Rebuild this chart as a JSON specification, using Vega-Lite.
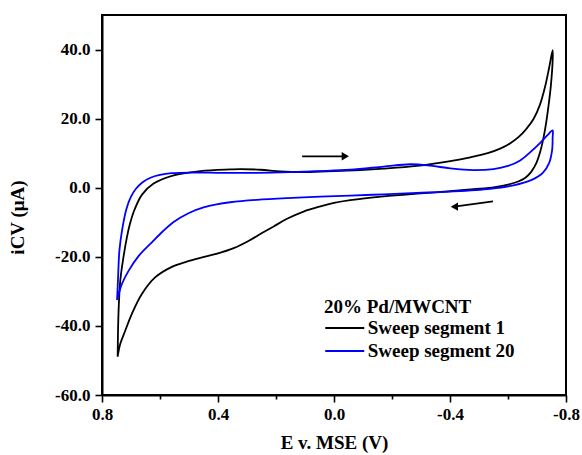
{
  "$schema": "https://vega.github.io/schema/vega-lite/v6.json",
  "width": 464,
  "height": 380,
  "autosize": "none",
  "padding": {"left": 102, "top": 15, "right": 16, "bottom": 60},
  "background": "white",
  "config": {
    "view": {"stroke": "black", "strokeWidth": 2},
    "axis": {
      "grid": false,
      "domainColor": "black",
      "domainWidth": 2,
      "tickColor": "black",
      "tickWidth": 1.6,
      "labelFont": "Liberation Serif",
      "labelFontWeight": "bold",
      "labelFontSize": 17,
      "labelColor": "black",
      "titleFont": "Liberation Serif",
      "titleFontWeight": "bold",
      "titleFontSize": 19,
      "titleColor": "black"
    },
    "legend": {
      "titleFont": "Liberation Serif",
      "titleFontWeight": "bold",
      "titleFontSize": 19,
      "titleColor": "black",
      "labelFont": "Liberation Serif",
      "labelFontWeight": "bold",
      "labelFontSize": 19,
      "labelColor": "black"
    }
  },
  "datasets": {
    "cv": [
      {"s": "Sweep segment 1", "o": 0, "E": 0.746, "I": -48.9},
      {"s": "Sweep segment 1", "o": 1, "E": 0.743, "I": -36.0},
      {"s": "Sweep segment 1", "o": 2, "E": 0.737, "I": -26.9},
      {"s": "Sweep segment 1", "o": 3, "E": 0.726, "I": -20.1},
      {"s": "Sweep segment 1", "o": 4, "E": 0.714, "I": -14.3},
      {"s": "Sweep segment 1", "o": 5, "E": 0.704, "I": -10.6},
      {"s": "Sweep segment 1", "o": 6, "E": 0.689, "I": -6.6},
      {"s": "Sweep segment 1", "o": 7, "E": 0.662, "I": -2.0},
      {"s": "Sweep segment 1", "o": 8, "E": 0.622, "I": 1.2},
      {"s": "Sweep segment 1", "o": 9, "E": 0.553, "I": 3.6},
      {"s": "Sweep segment 1", "o": 10, "E": 0.461, "I": 4.8},
      {"s": "Sweep segment 1", "o": 11, "E": 0.358, "I": 5.3},
      {"s": "Sweep segment 1", "o": 12, "E": 0.323, "I": 5.4},
      {"s": "Sweep segment 1", "o": 13, "E": 0.254, "I": 5.2},
      {"s": "Sweep segment 1", "o": 14, "E": 0.185, "I": 4.7},
      {"s": "Sweep segment 1", "o": 15, "E": 0.116, "I": 4.5},
      {"s": "Sweep segment 1", "o": 16, "E": 0.047, "I": 4.7},
      {"s": "Sweep segment 1", "o": 17, "E": -0.022, "I": 4.9},
      {"s": "Sweep segment 1", "o": 18, "E": -0.090, "I": 5.1},
      {"s": "Sweep segment 1", "o": 19, "E": -0.171, "I": 5.5},
      {"s": "Sweep segment 1", "o": 20, "E": -0.286, "I": 6.3},
      {"s": "Sweep segment 1", "o": 21, "E": -0.401, "I": 7.7},
      {"s": "Sweep segment 1", "o": 22, "E": -0.470, "I": 8.8},
      {"s": "Sweep segment 1", "o": 23, "E": -0.530, "I": 10.0},
      {"s": "Sweep segment 1", "o": 24, "E": -0.573, "I": 11.3},
      {"s": "Sweep segment 1", "o": 25, "E": -0.608, "I": 12.9},
      {"s": "Sweep segment 1", "o": 26, "E": -0.637, "I": 14.7},
      {"s": "Sweep segment 1", "o": 27, "E": -0.662, "I": 16.9},
      {"s": "Sweep segment 1", "o": 28, "E": -0.688, "I": 19.9},
      {"s": "Sweep segment 1", "o": 29, "E": -0.710, "I": 24.0},
      {"s": "Sweep segment 1", "o": 30, "E": -0.728, "I": 29.3},
      {"s": "Sweep segment 1", "o": 31, "E": -0.742, "I": 34.8},
      {"s": "Sweep segment 1", "o": 32, "E": -0.754, "I": 39.8},
      {"s": "Sweep segment 1", "o": 33, "E": -0.754, "I": 36.9},
      {"s": "Sweep segment 1", "o": 34, "E": -0.748, "I": 29.7},
      {"s": "Sweep segment 1", "o": 35, "E": -0.740, "I": 23.9},
      {"s": "Sweep segment 1", "o": 36, "E": -0.731, "I": 18.5},
      {"s": "Sweep segment 1", "o": 37, "E": -0.722, "I": 14.3},
      {"s": "Sweep segment 1", "o": 38, "E": -0.711, "I": 10.4},
      {"s": "Sweep segment 1", "o": 39, "E": -0.698, "I": 7.2},
      {"s": "Sweep segment 1", "o": 40, "E": -0.680, "I": 4.6},
      {"s": "Sweep segment 1", "o": 41, "E": -0.660, "I": 2.9},
      {"s": "Sweep segment 1", "o": 42, "E": -0.635, "I": 1.8},
      {"s": "Sweep segment 1", "o": 43, "E": -0.600, "I": 0.9},
      {"s": "Sweep segment 1", "o": 44, "E": -0.555, "I": 0.2},
      {"s": "Sweep segment 1", "o": 45, "E": -0.504, "I": -0.3},
      {"s": "Sweep segment 1", "o": 46, "E": -0.401, "I": -1.0},
      {"s": "Sweep segment 1", "o": 47, "E": -0.286, "I": -1.7},
      {"s": "Sweep segment 1", "o": 48, "E": -0.171, "I": -2.5},
      {"s": "Sweep segment 1", "o": 49, "E": -0.056, "I": -3.6},
      {"s": "Sweep segment 1", "o": 50, "E": 0.000, "I": -4.4},
      {"s": "Sweep segment 1", "o": 51, "E": 0.047, "I": -5.4},
      {"s": "Sweep segment 1", "o": 52, "E": 0.105, "I": -6.9},
      {"s": "Sweep segment 1", "o": 53, "E": 0.162, "I": -9.0},
      {"s": "Sweep segment 1", "o": 54, "E": 0.208, "I": -11.2},
      {"s": "Sweep segment 1", "o": 55, "E": 0.250, "I": -13.2},
      {"s": "Sweep segment 1", "o": 56, "E": 0.295, "I": -15.4},
      {"s": "Sweep segment 1", "o": 57, "E": 0.346, "I": -17.5},
      {"s": "Sweep segment 1", "o": 58, "E": 0.403, "I": -19.1},
      {"s": "Sweep segment 1", "o": 59, "E": 0.461, "I": -20.3},
      {"s": "Sweep segment 1", "o": 60, "E": 0.508, "I": -21.4},
      {"s": "Sweep segment 1", "o": 61, "E": 0.559, "I": -22.9},
      {"s": "Sweep segment 1", "o": 62, "E": 0.616, "I": -25.9},
      {"s": "Sweep segment 1", "o": 63, "E": 0.662, "I": -30.7},
      {"s": "Sweep segment 1", "o": 64, "E": 0.697, "I": -36.5},
      {"s": "Sweep segment 1", "o": 65, "E": 0.720, "I": -41.4},
      {"s": "Sweep segment 1", "o": 66, "E": 0.737, "I": -45.2},
      {"s": "Sweep segment 1", "o": 67, "E": 0.746, "I": -48.9},
      {"s": "Sweep segment 20", "o": 0, "E": 0.748, "I": -32.5},
      {"s": "Sweep segment 20", "o": 1, "E": 0.745, "I": -26.9},
      {"s": "Sweep segment 20", "o": 2, "E": 0.740, "I": -18.2},
      {"s": "Sweep segment 20", "o": 3, "E": 0.731, "I": -12.4},
      {"s": "Sweep segment 20", "o": 4, "E": 0.716, "I": -6.2},
      {"s": "Sweep segment 20", "o": 5, "E": 0.700, "I": -2.6},
      {"s": "Sweep segment 20", "o": 6, "E": 0.683, "I": -0.3},
      {"s": "Sweep segment 20", "o": 7, "E": 0.660, "I": 1.6},
      {"s": "Sweep segment 20", "o": 8, "E": 0.633, "I": 2.9},
      {"s": "Sweep segment 20", "o": 9, "E": 0.600, "I": 3.7},
      {"s": "Sweep segment 20", "o": 10, "E": 0.560, "I": 4.2},
      {"s": "Sweep segment 20", "o": 11, "E": 0.496, "I": 4.4},
      {"s": "Sweep segment 20", "o": 12, "E": 0.381, "I": 4.3},
      {"s": "Sweep segment 20", "o": 13, "E": 0.266, "I": 4.3},
      {"s": "Sweep segment 20", "o": 14, "E": 0.151, "I": 4.5},
      {"s": "Sweep segment 20", "o": 15, "E": 0.047, "I": 4.8},
      {"s": "Sweep segment 20", "o": 16, "E": -0.056, "I": 5.2},
      {"s": "Sweep segment 20", "o": 17, "E": -0.171, "I": 6.1},
      {"s": "Sweep segment 20", "o": 18, "E": -0.263, "I": 6.8},
      {"s": "Sweep segment 20", "o": 19, "E": -0.332, "I": 6.4},
      {"s": "Sweep segment 20", "o": 20, "E": -0.401, "I": 5.6},
      {"s": "Sweep segment 20", "o": 21, "E": -0.480, "I": 5.1},
      {"s": "Sweep segment 20", "o": 22, "E": -0.550, "I": 5.4},
      {"s": "Sweep segment 20", "o": 23, "E": -0.600, "I": 6.3},
      {"s": "Sweep segment 20", "o": 24, "E": -0.642, "I": 7.9},
      {"s": "Sweep segment 20", "o": 25, "E": -0.677, "I": 10.3},
      {"s": "Sweep segment 20", "o": 26, "E": -0.711, "I": 13.0},
      {"s": "Sweep segment 20", "o": 27, "E": -0.736, "I": 15.2},
      {"s": "Sweep segment 20", "o": 28, "E": -0.754, "I": 16.6},
      {"s": "Sweep segment 20", "o": 29, "E": -0.754, "I": 14.7},
      {"s": "Sweep segment 20", "o": 30, "E": -0.752, "I": 10.8},
      {"s": "Sweep segment 20", "o": 31, "E": -0.742, "I": 7.2},
      {"s": "Sweep segment 20", "o": 32, "E": -0.720, "I": 4.3},
      {"s": "Sweep segment 20", "o": 33, "E": -0.680, "I": 2.2},
      {"s": "Sweep segment 20", "o": 34, "E": -0.619, "I": 0.7},
      {"s": "Sweep segment 20", "o": 35, "E": -0.539, "I": -0.3},
      {"s": "Sweep segment 20", "o": 36, "E": -0.401, "I": -1.1},
      {"s": "Sweep segment 20", "o": 37, "E": -0.286, "I": -1.5},
      {"s": "Sweep segment 20", "o": 38, "E": -0.171, "I": -1.9},
      {"s": "Sweep segment 20", "o": 39, "E": -0.056, "I": -2.3},
      {"s": "Sweep segment 20", "o": 40, "E": 0.047, "I": -2.6},
      {"s": "Sweep segment 20", "o": 41, "E": 0.162, "I": -3.0},
      {"s": "Sweep segment 20", "o": 42, "E": 0.266, "I": -3.5},
      {"s": "Sweep segment 20", "o": 43, "E": 0.358, "I": -4.2},
      {"s": "Sweep segment 20", "o": 44, "E": 0.405, "I": -4.8},
      {"s": "Sweep segment 20", "o": 45, "E": 0.450, "I": -5.7},
      {"s": "Sweep segment 20", "o": 46, "E": 0.500, "I": -7.3},
      {"s": "Sweep segment 20", "o": 47, "E": 0.553, "I": -9.9},
      {"s": "Sweep segment 20", "o": 48, "E": 0.590, "I": -12.6},
      {"s": "Sweep segment 20", "o": 49, "E": 0.628, "I": -15.8},
      {"s": "Sweep segment 20", "o": 50, "E": 0.674, "I": -19.8},
      {"s": "Sweep segment 20", "o": 51, "E": 0.708, "I": -24.0},
      {"s": "Sweep segment 20", "o": 52, "E": 0.731, "I": -27.8},
      {"s": "Sweep segment 20", "o": 53, "E": 0.748, "I": -32.5}
    ],
    "arrows": [
      {"a": "forward", "part": "tail", "E": 0.110, "I": 9.1},
      {"a": "forward", "part": "head", "E": -0.039, "I": 9.1},
      {"a": "reverse", "part": "tail", "E": -0.548, "I": -3.97},
      {"a": "reverse", "part": "head", "E": -0.415, "I": -5.48}
    ]
  },
  "layer": [
    {
      "data": {"name": "cv"},
      "mark": {"type": "line", "strokeWidth": 1.8, "clip": true, "interpolate": "catmull-rom"},
      "encoding": {
        "x": {
          "field": "E",
          "type": "quantitative",
          "scale": {"domain": [-0.8, 0.8], "reverse": true, "nice": false, "zero": false},
          "axis": {
            "title": "E v. MSE (V)",
            "values": [0.8, 0.6, 0.4, 0.2, 0, -0.2, -0.4, -0.6, -0.8],
            "labelExpr": "abs(round(datum.value*10)) % 4 === 0 ? replace(format(datum.value, '.1f'), '−', '-') : ''",
            "tickSize": {"condition": {"test": "abs(round(datum.value*10)) % 4 === 0", "value": 7}, "value": 4},
            "labelPadding": 4,
            "labelFlush": false,
            "labelOverlap": false,
            "titleY": 53,
            "titleBaseline": "alphabetic"
          }
        },
        "y": {
          "field": "I",
          "type": "quantitative",
          "scale": {"domain": [-60, 50], "nice": false, "zero": false},
          "axis": {
            "title": "iCV (μA)",
            "values": [-60, -50, -40, -30, -20, -10, 0, 10, 20, 30, 40],
            "labelExpr": "datum.value % 20 === 0 ? replace(format(datum.value, '.1f'), '−', '-') : ''",
            "tickSize": {"condition": {"test": "datum.value % 20 === 0", "value": 7}, "value": 4},
            "labelPadding": 5,
            "labelOverlap": false,
            "labelFlush": false,
            "titleX": -85,
            "titleY": 202,
            "titleAngle": 270,
            "titleAlign": "center",
            "titleBaseline": "middle"
          }
        },
        "color": {
          "field": "s",
          "type": "nominal",
          "scale": {"domain": ["Sweep segment 1", "Sweep segment 20"], "range": ["#000000", "#0000ff"]},
          "legend": {
            "title": "20% Pd/MWCNT",
            "orient": "none",
            "legendX": 222,
            "legendY": 283,
            "symbolType": "M-2,0H2",
            "symbolSize": 380,
            "symbolStrokeWidth": 2,
            "symbolOffset": 9.75,
            "labelOffset": 12,
            "rowPadding": 2,
            "titlePadding": 0,
            "padding": 0
          }
        },
        "order": {"field": "o", "type": "quantitative"}
      }
    },
    {
      "data": {"name": "arrows"},
      "mark": {"type": "line", "strokeWidth": 1.8, "color": "black"},
      "encoding": {
        "x": {"field": "E", "type": "quantitative"},
        "y": {"field": "I", "type": "quantitative"},
        "detail": {"field": "a", "type": "nominal"}
      }
    },
    {
      "data": {"name": "arrows"},
      "transform": [{"filter": "datum.part === 'head'"}],
      "mark": {"type": "point", "filled": true, "color": "black", "size": 70, "opacity": 1},
      "encoding": {
        "x": {"field": "E", "type": "quantitative"},
        "y": {"field": "I", "type": "quantitative"},
        "shape": {
          "field": "a",
          "type": "nominal",
          "scale": {"domain": ["forward", "reverse"], "range": ["triangle-right", "triangle-left"]},
          "legend": null
        }
      }
    }
  ]
}
